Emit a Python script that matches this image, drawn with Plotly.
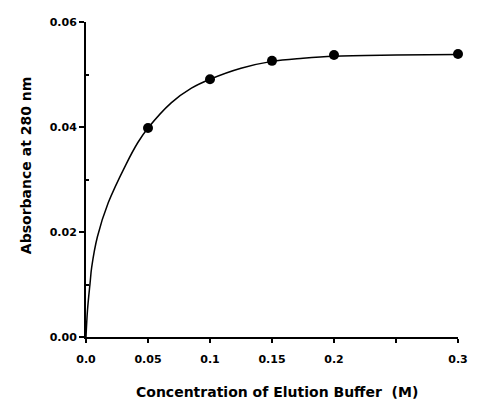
import plotly.graph_objects as go

# Measured data points
conc = [0.05, 0.1, 0.15, 0.2, 0.3]
absorb = [0.0398, 0.0491, 0.0526, 0.0537, 0.0539]

# Fitted curve
curve_x = [0.0, 0.0012, 0.0033, 0.0046, 0.0092, 0.018, 0.0321, 0.0417, 0.05,
           0.0687, 0.085, 0.1, 0.125, 0.15, 0.175, 0.2, 0.25, 0.3]
curve_y = [0.0, 0.0051, 0.0103, 0.0133, 0.0191, 0.0256, 0.0328, 0.0370, 0.0398,
           0.0446, 0.0474, 0.0491, 0.0512, 0.0525, 0.0531, 0.0535, 0.0537, 0.0538]

x_tickvals = [0.0, 0.05, 0.1, 0.15, 0.2, 0.25, 0.3]
x_ticktext = ["0.0", "0.05", "0.1", "0.15", "0.2", "", "0.3"]
y_tickvals = [0.0, 0.02, 0.04, 0.06]
y_ticktext = ["0.00", "0.02", "0.04", "0.06"]

FONT = "DejaVu Sans"

fig = go.Figure()
fig.add_trace(go.Scatter(
    x=curve_x, y=curve_y, mode="lines",
    line=dict(color="black", width=1.5, shape="spline", smoothing=1.0),
    hoverinfo="skip", showlegend=False, cliponaxis=False,
))
fig.add_trace(go.Scatter(
    x=conc, y=absorb, mode="markers",
    marker=dict(color="black", size=10),
    showlegend=False, cliponaxis=False,
))

fig.update_layout(
    width=480, height=400,
    margin=dict(l=86, r=15, t=22, b=63),
    paper_bgcolor="white", plot_bgcolor="white",
    font=dict(family=FONT, color="black"),
    xaxis=dict(
        range=[0, 0.3], tickmode="array", tickvals=x_tickvals, ticktext=x_ticktext,
        ticks="outside", ticklen=4, tickwidth=1.5, tickcolor="black",
        ticklabelstandoff=7,
        showline=True, linecolor="black", linewidth=2, showgrid=False, zeroline=False,
        tickfont=dict(family=FONT, size=11, weight="bold"),
    ),
    yaxis=dict(
        range=[0, 0.06], tickmode="array", tickvals=y_tickvals, ticktext=y_ticktext,
        ticks="outside", ticklen=5, tickwidth=1.5, tickcolor="black",
        minor=dict(tickvals=[0.01, 0.03, 0.05], ticks="inside", ticklen=3, tickcolor="black"),
        showline=True, linecolor="black", linewidth=2, showgrid=False, zeroline=False,
        tickfont=dict(family=FONT, size=11, weight="bold"),
    ),
    annotations=[
        dict(text="Concentration of Elution Buffer \u00a0(M)", xref="paper", yref="paper",
             x=(281 - 86) / 379, y=-(392 - 337) / 315, xanchor="center", yanchor="middle",
             showarrow=False, font=dict(family=FONT, size=14, weight="bold")),
        dict(text="Absorbance at 280 nm", xref="paper", yref="paper",
             x=-(86 - 25) / 379, y=(337 - 166) / 315, xanchor="center", yanchor="middle",
             textangle=-90, showarrow=False, font=dict(family=FONT, size=14, weight="bold")),
    ],
)

fig.write_html("out.html")
